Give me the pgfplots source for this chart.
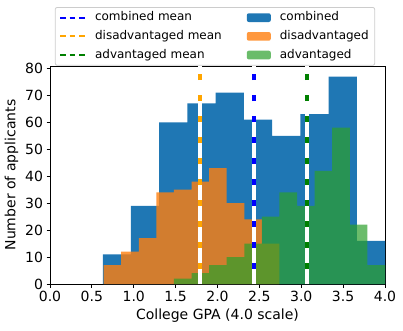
\documentclass[border=0pt]{standalone}
\usepackage{fontspec}
\setmainfont{DejaVu Sans}
\usepackage{pgfplots}
\pgfplotsset{compat=1.18}
\usetikzlibrary{calc}

\definecolor{tabblue}{HTML}{1F77B4}
\definecolor{taborange}{HTML}{FF7F0E}
\definecolor{tabgreen}{HTML}{2CA02C}
\definecolor{mblue}{HTML}{0000FF}
\definecolor{morange}{HTML}{FFA500}
\definecolor{mgreen}{HTML}{008000}

\pgfplotsset{
  meanleg/.style={line width=1.8pt, dash pattern=on 5.5pt off 4pt,
    legend image code/.code={\draw[##1] (0pt,0pt) -- (25pt,0pt);}},
  patchleg/.style={draw=none,
    legend image code/.code={\fill[##1] (0pt,-4.35pt) rectangle (24pt,4.35pt);}},
}

\begin{document}
\begin{tikzpicture}
\begin{axis}[
  scale only axis,
  width=335pt, height=218pt,
  xmin=0, xmax=4, ymin=0, ymax=80.9,
  enlargelimits=false,
  xtick={0,0.5,1,1.5,2,2.5,3,3.5,4},
  ytick={0,10,20,30,40,50,60,70,80},
  xticklabel style={/pgf/number format/.cd, fixed, fixed zerofill, precision=1},
  /pgf/number format/assume math mode=true,
  tick align=outside, xtick pos=bottom, ytick pos=left,
  major tick length=3.5pt,
  every tick/.style={black, line width=0.8pt},
  axis line style={line width=0.8pt},
  tick label style={font=\fontsize{14}{16}\selectfont},
  label style={font=\fontsize{14}{16}\selectfont},
  xlabel={College GPA (4.0 scale)},
  ylabel={Number of applicants},
  legend columns=2,
  legend cell align=left,
  legend style={
    at={(0.4925,1.2706)}, anchor=north,
    font=\fontsize{12}{14}\selectfont,
    draw=black!20, line width=0.8pt, rounded corners=2pt, fill=white,
    inner xsep=4pt, inner ysep=4.5pt,
    row sep=7.2pt,
    nodes={inner xsep=2pt, inner ysep=0pt, text height=9pt, text depth=2.5pt},
    /tikz/every odd column/.append style={column sep=7pt},
    /tikz/every even column/.append style={column sep=23pt},
  },
]
\coordinate (O) at (rel axis cs:0,0);

% histograms
\addplot[const plot, fill=tabblue, draw=none, forget plot] coordinates {
  (0.63,11) (0.967,29) (1.304,60) (1.641,67) (1.978,71) (2.315,61)
  (2.652,55) (2.989,63) (3.326,77) (3.663,16) (4.0,16)
} \closedcycle;
\addplot[const plot, fill=taborange, fill opacity=0.8, draw=none, forget plot] coordinates {
  (0.64,7) (0.85,12) (1.06,17) (1.27,34) (1.48,35) (1.69,38)
  (1.90,43) (2.11,30) (2.32,24) (2.53,15) (2.74,15)
} \closedcycle;
\addplot[const plot, fill=tabgreen, fill opacity=0.7, draw=none, forget plot] coordinates {
  (1.48,2) (1.69,4) (1.90,7) (2.11,10) (2.32,15) (2.53,25) (2.74,34)
  (2.95,29) (3.16,42) (3.37,58) (3.58,22) (3.79,7) (4.0,7)
} \closedcycle;

% mean lines (white gaps)
\addplot[white, line width=4pt, forget plot] coordinates {(2.437,0) (2.437,80.9)};
\addplot[mblue, line width=4pt, dash pattern=on 6pt off 15pt, dash phase=6pt, forget plot] coordinates {(2.437,0) (2.437,80.9)};
\addplot[white, line width=4pt, forget plot] coordinates {(1.786,0) (1.786,80.9)};
\addplot[morange, line width=4pt, dash pattern=on 6pt off 15pt, dash phase=6pt, forget plot] coordinates {(1.786,0) (1.786,80.9)};
\addplot[white, line width=4pt, forget plot] coordinates {(3.067,0) (3.067,80.9)};
\addplot[mgreen, line width=4pt, dash pattern=on 6pt off 15pt, dash phase=6pt, forget plot] coordinates {(3.067,0) (3.067,80.9)};

% legend
\addlegendimage{mblue, meanleg}
\addlegendentry{combined mean}
\addlegendimage{fill=tabblue, patchleg}
\addlegendentry{combined}
\addlegendimage{morange, meanleg}
\addlegendentry{disadvantaged mean}
\addlegendimage{fill=taborange, fill opacity=0.8, patchleg}
\addlegendentry{disadvantaged}
\addlegendimage{mgreen, meanleg}
\addlegendentry{advantaged mean}
\addlegendimage{fill=tabgreen, fill opacity=0.7, patchleg}
\addlegendentry{advantaged}
\end{axis}
\pgfresetboundingbox
\path[use as bounding box] ($(O)+(-50pt,-46pt)$) rectangle ($(O)+(353pt,284pt)$);
\end{tikzpicture}
\end{document}
